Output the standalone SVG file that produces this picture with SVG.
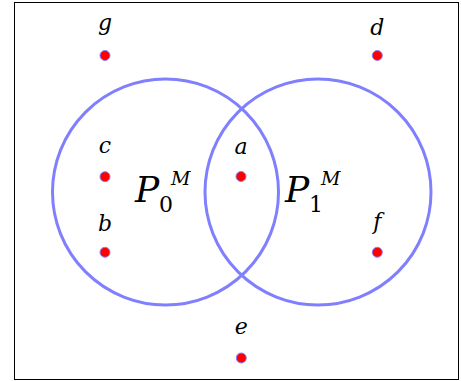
<svg xmlns="http://www.w3.org/2000/svg" width="461" height="381" viewBox="0 0 461 381">
<style>
.set{fill:none;stroke:#8080ff;stroke-width:3}
.pt{fill:#ff0000;stroke:#8080ff;stroke-width:1}
.lbl{font-family:"DejaVu Serif",serif;font-style:italic;font-size:22px;text-anchor:middle;fill:#000}
.big{font-family:"DejaVu Serif",serif;font-style:italic;font-size:36px;fill:#000}
.sub{font-family:"DejaVu Serif",serif;font-size:22px;fill:#000}
.sup{font-family:"DejaVu Serif",serif;font-style:italic;font-size:19px;fill:#000}
</style>
<rect x="14.5" y="2.5" width="444" height="377" fill="#fff" stroke="#000" stroke-width="1"/>
<g id="sets">
<circle id="P0" class="set" cx="165.5" cy="192" r="113"/>
<circle id="P1" class="set" cx="318" cy="192" r="113"/>
</g>
<g id="setlabels">
<text class="big" x="135" y="202">P</text><text class="sub" x="159" y="212">0</text><text class="sup" x="171" y="185">M</text>
<text class="big" x="285" y="202">P</text><text class="sub" x="309" y="212">1</text><text class="sup" x="321" y="185">M</text>
</g>
<g id="g"><circle class="pt" cx="105" cy="55.5" r="5"/><text class="lbl" x="105" y="30">g</text></g>
<g id="d"><circle class="pt" cx="377.3" cy="55.5" r="5"/><text class="lbl" x="377.3" y="35">d</text></g>
<g id="c"><circle class="pt" cx="105" cy="176.7" r="5"/><text class="lbl" x="105" y="152.7">c</text></g>
<g id="a"><circle class="pt" cx="241" cy="176.5" r="5"/><text class="lbl" x="241" y="153.5">a</text></g>
<g id="b"><circle class="pt" cx="105" cy="252.3" r="5"/><text class="lbl" x="105" y="230.5">b</text></g>
<g id="f"><circle class="pt" cx="377.3" cy="252.3" r="5"/><text class="lbl" x="377.3" y="229">f</text></g>
<g id="e"><circle class="pt" cx="241.3" cy="358" r="5"/><text class="lbl" x="241.3" y="334">e</text></g>
</svg>
